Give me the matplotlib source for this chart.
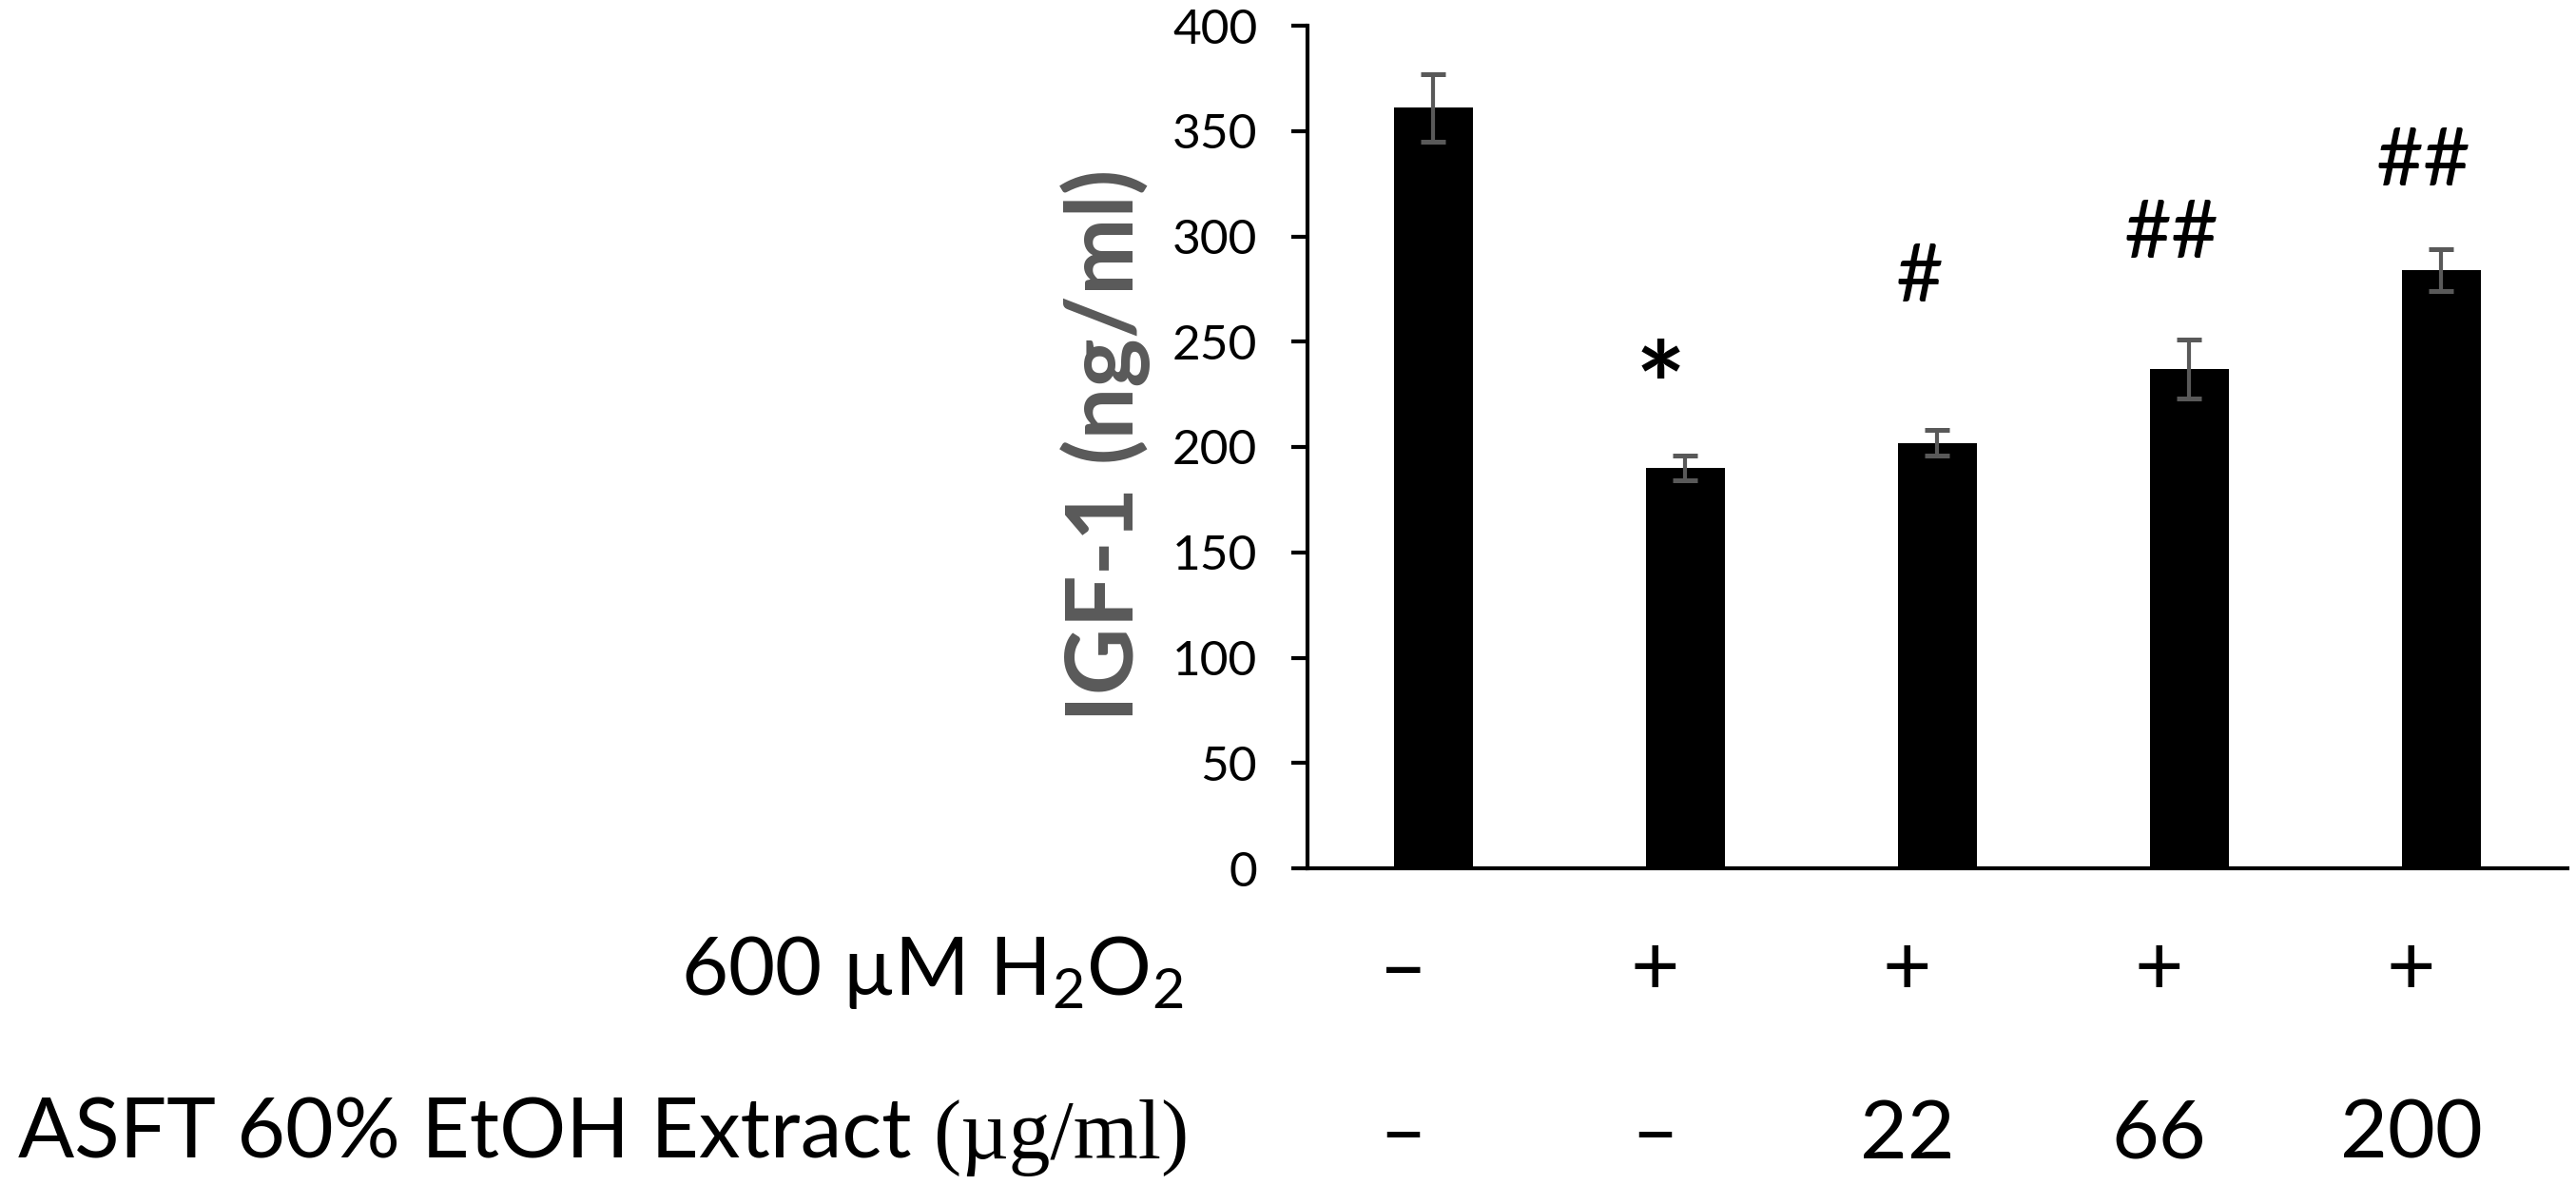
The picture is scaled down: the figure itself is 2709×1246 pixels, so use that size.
import matplotlib
matplotlib.use('Agg')
import matplotlib.pyplot as plt
import numpy as np

# values
groups = ['control', 'H2O2', 'H2O2 + 22', 'H2O2 + 66', 'H2O2 + 200']
igf1_mean = [361, 190, 202, 237, 284]
igf1_err = [16, 6, 6, 14, 10]
signif = ['', '*', '#', '##', '##']
signif_y = [0, 209, 269, 290, 324]   # baseline height of each mark (data units)
h2o2_row = ['\u2013', '+', '+', '+', '+']
extract_row = ['\u2013', '\u2013', '22', '66', '200']
yticks = [0, 50, 100, 150, 200, 250, 300, 350, 400]

plt.rcParams['font.family'] = ['Lato', 'DejaVu Sans']
plt.rcParams['mathtext.fontset'] = 'custom'
plt.rcParams['mathtext.rm'] = 'Lato'

W, H = 2709, 1246
fig = plt.figure(figsize=(W / 100, H / 100), dpi=100)
ax = fig.add_axes([1375 / W, 1 - 913 / H, 1325 / W, 886 / H])

x = np.arange(len(groups))
ax.bar(x, igf1_mean, width=0.31, color='black', zorder=2)
ax.errorbar(x, igf1_mean, yerr=igf1_err, fmt='none', ecolor='#595959',
            elinewidth=3, capsize=9.7, capthick=3.6, zorder=3)

ax.set_xlim(-0.5, 4.5)
ax.set_ylim(0, 400)
ax.set_yticks(yticks)
ax.set_xticks([])
for s in ['top', 'right']:
    ax.spines[s].set_visible(False)
for s in ['left', 'bottom']:
    ax.spines[s].set_linewidth(3)
ax.tick_params(axis='y', length=12, width=3, labelsize=37, pad=26)

# significance marks
for i, s in enumerate(signif):
    if not s:
        continue
    if s == '*':
        ax.text(i - 0.1, signif_y[i], s, ha='center', va='baseline', fontsize=90,
                fontweight='bold')
    else:
        ax.text(i - 0.07, signif_y[i], s, ha='center', va='baseline', fontsize=62)

# treatment rows under the axis
tr = ax.get_xaxis_transform()
for i in range(len(groups)):
    ax.text(i - 0.12, -0.1501, h2o2_row[i], transform=tr, ha='center', va='baseline',
            fontsize=64, clip_on=False)
    ax.text(i - 0.12, -0.3442, extract_row[i], transform=tr, ha='center', va='baseline',
            fontsize=62, clip_on=False)

fig.text(1245 / W, 1 - 1046 / H, '600 \u00b5M H$_\\mathregular{2}$O$_\\mathregular{2}$',
         ha='right', va='baseline', fontsize=61)
unit = fig.text(1250 / W, 1 - 1218 / H, '(\u00b5g/ml)', family='Liberation Serif',
                ha='right', va='baseline', fontsize=63)
ax.annotate('ASFT 60% EtOH Extract ', xy=(0, 1 - 1218 / H), xycoords=(unit, 'figure fraction'),
            ha='right', va='baseline', fontsize=63, annotation_clip=False)

fig.text(1163 / W, 1 - 468 / H, 'IGF-1 (ng/ml)', rotation=90, ha='center', va='center',
         fontsize=70, fontweight='bold', color='#595959')

fig.savefig('out.png', dpi=100)
